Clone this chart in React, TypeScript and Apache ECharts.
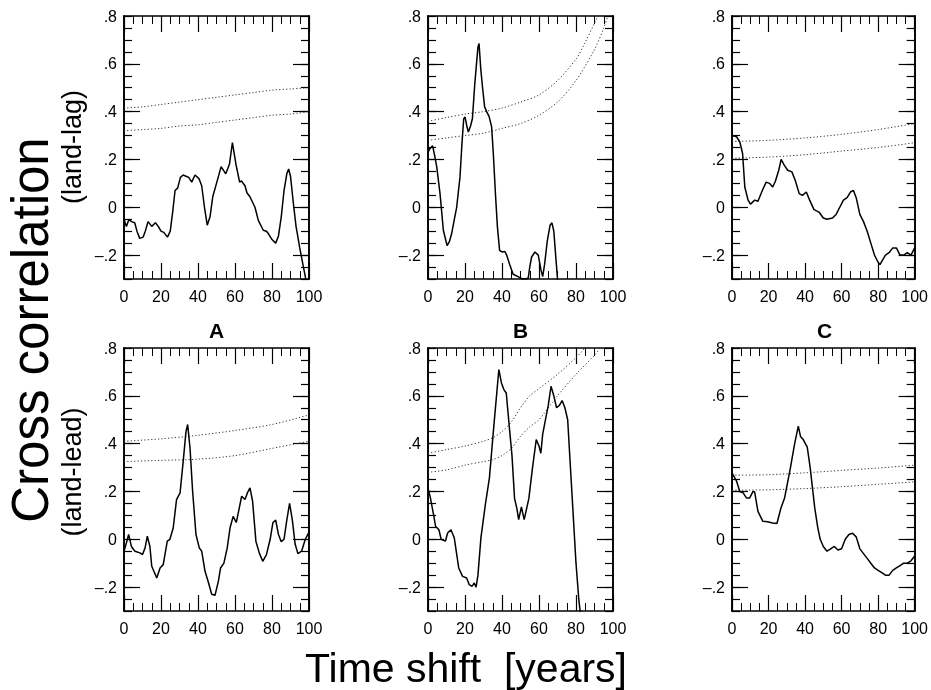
import React, { useEffect, useRef } from 'react';
import * as echarts from 'echarts';

// ---------- tick / label values ----------
const X_MIN = 0;
const X_MAX = 100;
const X_INTERVAL = 20;
const Y_MIN = -0.3;
const Y_MAX = 0.8;
const Y_MINOR_INTERVAL = 0.05;
const Y_MAJOR_TICKS = [-0.2, 0, 0.2, 0.4, 0.6];
const Y_LABELS = [-0.2, 0, 0.2, 0.4, 0.6, 0.8];
const PANEL_TITLES = ['A', 'B', 'C'];

// ---------- series values: [time shift (years), correlation] ----------
const LAG_A: [number, number][] = [
  [0, -0.05], [1.3, -0.08], [2.7, -0.05], [4, -0.06], [5.8, -0.065], [7, -0.1], [8.5, -0.13],
  [10.3, -0.125], [11.5, -0.1], [13, -0.06], [15, -0.08], [17, -0.065], [18.5, -0.08], [20, -0.1],
  [21.5, -0.105], [23.5, -0.125], [25, -0.1], [26.3, -0.02], [27.6, 0.07], [29, 0.08], [30.5, 0.125],
  [32, 0.135], [33.5, 0.13], [35, 0.125], [36.6, 0.105], [38.4, 0.135], [40.5, 0.12], [42, 0.09],
  [43.5, 0.0], [45, -0.075], [46.5, -0.04], [48, 0.045], [50, 0.1], [52.5, 0.17], [55, 0.14],
  [57, 0.18], [58.6, 0.27], [60.5, 0.18], [62.5, 0.105], [63.5, 0.11], [65.4, 0.09], [66.5, 0.06],
  [68, 0.045], [70.8, 0.0], [72.6, -0.055], [75.3, -0.096], [77, -0.1], [78, -0.11], [80, -0.135],
  [82, -0.15], [83.5, -0.12], [85, -0.04], [86.5, 0.07], [88, 0.14], [89, 0.16], [90, 0.13],
  [91.5, 0.02], [93, -0.08], [95, -0.17], [97, -0.25], [98.5, -0.31], [100, -0.36],
];
const LAG_B: [number, number][] = [
  [0, 0.23], [1, 0.245], [2.5, 0.257], [3.5, 0.22], [4.7, 0.17], [6.5, 0.057], [8.3, -0.096],
  [10.3, -0.16], [11.5, -0.145], [12.8, -0.11], [14, -0.06], [15.5, 0.0], [17.3, 0.127], [18.3, 0.26],
  [19.3, 0.37], [20, 0.378], [21, 0.34], [21.8, 0.315], [23, 0.34], [24, 0.37], [25.3, 0.517],
  [27, 0.67], [27.6, 0.685], [28.5, 0.58], [29.5, 0.5], [30.6, 0.42], [31.7, 0.4], [33, 0.38],
  [34.4, 0.336], [35.3, 0.225], [36.5, 0.05], [37.5, -0.08], [38.7, -0.18], [40, -0.187],
  [41.6, -0.185], [42.5, -0.2], [44.2, -0.24], [46, -0.28], [48.7, -0.29], [51, -0.3], [53, -0.3],
  [54.2, -0.295], [55, -0.25], [56, -0.208], [57.8, -0.187], [59.6, -0.2], [61, -0.26], [62, -0.29],
  [63, -0.24], [64.5, -0.14], [66, -0.075], [67, -0.065], [68, -0.1], [69, -0.2], [70, -0.3], [71, -0.36],
];
const LAG_C: [number, number][] = [
  [0, 0.3], [2.5, 0.295], [4.3, 0.273], [5.8, 0.225], [7, 0.085], [8.8, 0.03], [10.1, 0.013],
  [12.4, 0.03], [14.2, 0.025], [16.6, 0.07], [18.7, 0.105], [20.5, 0.1], [22.3, 0.085], [23.8, 0.11],
  [25.6, 0.155], [26.9, 0.2], [28.6, 0.176], [30.5, 0.155], [32.8, 0.148], [34.6, 0.113], [36.8, 0.057],
  [38.6, 0.05], [40.7, 0.064], [42.5, 0.03], [44.9, -0.01], [47.6, -0.02], [50, -0.045], [52, -0.05],
  [55, -0.045], [57, -0.03], [59, 0.0], [61, 0.03], [63, 0.04], [65, 0.065], [66.5, 0.07], [68, 0.04],
  [70, -0.03], [72, -0.06], [74, -0.1], [76, -0.15], [78, -0.2], [80, -0.23], [81, -0.24],
  [82.5, -0.22], [84, -0.2], [86, -0.19], [88, -0.17], [90, -0.17], [92, -0.2], [94, -0.2],
  [96, -0.19], [98, -0.2], [100, -0.17],
];
const LEAD_A: [number, number][] = [
  [0, -0.05], [1.3, -0.015], [2.5, 0.02], [4, -0.03], [5.9, -0.05], [8.6, -0.057], [10, -0.064],
  [11.4, -0.036], [12.6, 0.013], [14, -0.03], [15, -0.113], [17.7, -0.162], [19.5, -0.12],
  [21.2, -0.106], [23.4, -0.008], [24.8, 0.0], [26.6, 0.047], [28.4, 0.166], [30.3, 0.194],
  [32, 0.326], [33.5, 0.45], [34.4, 0.48], [35.7, 0.38], [37.1, 0.2], [38.9, 0.02], [40.7, -0.036],
  [42, -0.05], [43.8, -0.134], [45.6, -0.18], [47.4, -0.23], [49.2, -0.234], [51, -0.176],
  [52.2, -0.12], [54, -0.1], [55.8, -0.036], [57.3, 0.047], [59, 0.096], [60.7, 0.07], [63.6, 0.18],
  [65.4, 0.166], [66.7, 0.194], [68.1, 0.215], [69.5, 0.16], [71.3, -0.008], [73.1, -0.057],
  [75, -0.092], [77, -0.064], [79, 0.0], [80.5, 0.07], [82, 0.08], [83.5, 0.02], [85, -0.01],
  [86.5, 0.0], [88, 0.08], [89.5, 0.15], [91, 0.08], [92.5, -0.02], [94, -0.06], [96, -0.05],
  [98, 0.0], [100, 0.03],
];
const LEAD_B: [number, number][] = [
  [0, 0.215], [1.3, 0.173], [3, 0.103], [4.1, 0.054], [5.9, 0.04], [7.1, 0.0], [9.4, -0.008],
  [10.6, 0.026], [12.4, 0.04], [14.2, 0.006], [16.6, -0.12], [18.7, -0.155], [20.9, -0.162],
  [22.3, -0.19], [23.8, -0.197], [25, -0.183], [26, -0.2], [27, -0.15], [28.6, 0.006], [31, 0.145],
  [33.2, 0.257], [35.5, 0.466], [38.3, 0.71], [39.7, 0.654], [41, 0.626], [42.3, 0.612], [44, 0.466],
  [45.4, 0.35], [46.8, 0.17], [48, 0.13], [49, 0.082], [50.5, 0.135], [52, 0.082], [54.5, 0.17],
  [56.5, 0.3], [58.5, 0.417], [60, 0.39], [61, 0.36], [62, 0.44], [63.5, 0.5], [65, 0.56],
  [66.5, 0.64], [68, 0.6], [69.5, 0.55], [71, 0.56], [72.5, 0.58], [74, 0.55], [75.5, 0.5],
  [77, 0.3], [78.5, 0.1], [80, -0.1], [81.5, -0.25], [82.5, -0.32],
];
const LEAD_C: [number, number][] = [
  [0, 0.278], [2.5, 0.243], [4.3, 0.2], [6.1, 0.194], [7.9, 0.173], [9.7, 0.173], [11.5, 0.2],
  [12.4, 0.198], [14.2, 0.117], [16.9, 0.075], [19.5, 0.073], [22.2, 0.068], [24.6, 0.066],
  [26.8, 0.131], [28.8, 0.173], [32, 0.3], [34.3, 0.4], [36.3, 0.473], [37.5, 0.43], [39, 0.417],
  [41.2, 0.385], [42.8, 0.3], [45.3, 0.131], [47, 0.047], [48.3, 0.0], [50, -0.03], [52, -0.05],
  [54, -0.04], [56, -0.03], [58, -0.045], [60, -0.04], [62, 0.0], [64, 0.02], [66, 0.025],
  [68, 0.01], [70, -0.04], [72, -0.06], [74, -0.08], [76, -0.1], [78, -0.12], [80, -0.13],
  [82, -0.14], [84, -0.15], [86, -0.15], [88, -0.13], [90, -0.12], [92, -0.11], [94, -0.1],
  [96, -0.1], [98, -0.09], [100, -0.07],
];

// significance levels (dotted)
const LAG_A_HI: [number, number][] = [[0, 0.415], [10, 0.42], [20, 0.43], [30, 0.44], [40, 0.45], [50, 0.46], [60, 0.47], [70, 0.48], [80, 0.49], [90, 0.495], [100, 0.5]];
const LAG_A_LO: [number, number][] = [[0, 0.32], [10, 0.325], [20, 0.33], [30, 0.34], [40, 0.345], [50, 0.355], [60, 0.365], [70, 0.375], [80, 0.385], [90, 0.39], [100, 0.4]];
const LAG_B_HI: [number, number][] = [[0, 0.36], [10, 0.375], [20, 0.39], [30, 0.4], [40, 0.415], [50, 0.44], [60, 0.47], [70, 0.53], [80, 0.62], [85, 0.69], [90, 0.77], [93, 0.82]];
const LAG_B_LO: [number, number][] = [[0, 0.28], [10, 0.29], [20, 0.3], [30, 0.31], [40, 0.33], [50, 0.35], [60, 0.385], [70, 0.44], [80, 0.53], [90, 0.66], [95, 0.75], [98, 0.82]];
const LAG_C_HI: [number, number][] = [[0, 0.275], [20, 0.28], [40, 0.29], [60, 0.305], [80, 0.325], [100, 0.35]];
const LAG_C_LO: [number, number][] = [[0, 0.205], [20, 0.21], [40, 0.22], [60, 0.235], [80, 0.25], [100, 0.27]];
const LEAD_A_HI: [number, number][] = [[0, 0.41], [20, 0.42], [40, 0.435], [60, 0.455], [80, 0.48], [100, 0.52]];
const LEAD_A_LO: [number, number][] = [[0, 0.325], [20, 0.33], [40, 0.335], [60, 0.35], [80, 0.38], [100, 0.41]];
const LEAD_B_HI: [number, number][] = [[0, 0.36], [10, 0.375], [20, 0.39], [30, 0.41], [35, 0.425], [40, 0.45], [45, 0.49], [50, 0.55], [55, 0.6], [60, 0.63], [70, 0.69], [80, 0.76], [86, 0.81]];
const LEAD_B_LO: [number, number][] = [[0, 0.28], [10, 0.29], [20, 0.31], [30, 0.325], [35, 0.333], [40, 0.35], [45, 0.38], [50, 0.43], [55, 0.47], [60, 0.5], [70, 0.6], [80, 0.69], [90, 0.77], [94, 0.81]];
const LEAD_C_HI: [number, number][] = [[0, 0.268], [20, 0.27], [40, 0.278], [60, 0.288], [80, 0.298], [100, 0.31]];
const LEAD_C_LO: [number, number][] = [[0, 0.205], [20, 0.207], [40, 0.212], [60, 0.22], [80, 0.23], [100, 0.24]];

const PANELS = [
  { main: LAG_A, hi: LAG_A_HI, lo: LAG_A_LO },
  { main: LAG_B, hi: LAG_B_HI, lo: LAG_B_LO },
  { main: LAG_C, hi: LAG_C_HI, lo: LAG_C_LO },
  { main: LEAD_A, hi: LEAD_A_HI, lo: LEAD_A_LO },
  { main: LEAD_B, hi: LEAD_B_HI, lo: LEAD_B_LO },
  { main: LEAD_C, hi: LEAD_C_HI, lo: LEAD_C_LO },
];

// ---------- layout ----------
const COL_LEFT = [124, 428, 732];
const PANEL_W = 185;
const ROW_TOP = [16, 348];
const PANEL_H = 263;
const FONT = 'Liberation Sans';

function fmtY(v: number): string {
  if (Math.abs(v) < 1e-9) return '0';
  const s = Math.abs(v).toFixed(1).replace(/^0/, '');
  return v < 0 ? '\u2013' + s : s;
}

function axisLine() {
  return { show: true, onZero: false, lineStyle: { color: '#000', width: 1.6 } };
}
function tick(length: number) {
  return { show: true, inside: true, length, lineStyle: { color: '#000', width: 1.2 } };
}

export default function App() {
  const ref = useRef<HTMLDivElement>(null);
  useEffect(() => {
    if (!ref.current) return;
    const chart = echarts.init(ref.current, undefined, { renderer: 'svg' });
    const grids: any[] = [];
    const xAxes: any[] = [];
    const yAxes: any[] = [];
    const series: any[] = [];

    PANELS.forEach((p, i) => {
      const row = Math.floor(i / 3);
      const col = i % 3;
      grids.push({ left: COL_LEFT[col], top: ROW_TOP[row], width: PANEL_W, height: PANEL_H });
      ['bottom', 'top'].forEach((pos, k) => {
        xAxes.push({
          type: 'value', gridIndex: i, position: pos, min: X_MIN, max: X_MAX, interval: X_INTERVAL,
          axisLine: axisLine(),
          axisTick: tick(16),
          minorTick: { show: true, splitNumber: 4, length: 8 },
          axisLabel: k === 0
            ? { show: true, color: '#000', fontSize: 16, fontFamily: FONT, margin: 9 }
            : { show: false },
          splitLine: { show: false },
        });
      });
      ['left', 'right'].forEach((pos, k) => {
        yAxes.push({
          type: 'value', gridIndex: i, position: pos, min: Y_MIN, max: Y_MAX, interval: Y_MINOR_INTERVAL,
          axisLine: axisLine(),
          axisTick: tick(8),
          axisLabel: { show: false },
          splitLine: { show: false },
        });
        yAxes.push({
          type: 'value', gridIndex: i, position: pos, min: Y_MIN, max: Y_MAX,
          axisLine: axisLine(),
          axisTick: { ...tick(16), customValues: Y_MAJOR_TICKS },
          axisLabel: k === 0
            ? { show: true, customValues: Y_LABELS, formatter: (v: number) => fmtY(v), color: '#000', fontSize: 16, fontFamily: FONT, margin: 7 }
            : { show: false },
          splitLine: { show: false },
        });
      });
      const xi = i * 2;
      const yi = i * 4;
      series.push({
        type: 'line', xAxisIndex: xi, yAxisIndex: yi, data: p.main, symbol: 'none', showSymbol: false,
        clip: true, lineStyle: { color: '#000', width: 1.5 }, z: 3,
      });
      [p.hi, p.lo].forEach((d) => {
        series.push({
          type: 'line', xAxisIndex: xi, yAxisIndex: yi, data: d, symbol: 'none', showSymbol: false,
          clip: true, smooth: 0.3, lineStyle: { color: '#333', width: 1, type: [1.2, 2.2] }, z: 2,
        });
      });
    });

    const graphic: any[] = [];
    PANEL_TITLES.forEach((t, c) => {
      graphic.push({
        type: 'text', x: COL_LEFT[c] + PANEL_W / 2, y: 330,
        style: { text: t, font: `bold 21px "${FONT}"`, fill: '#000', textAlign: 'center', textVerticalAlign: 'middle' },
      });
    });
    graphic.push({
      type: 'text', x: 30, y: 330, rotation: Math.PI / 2,
      style: { text: 'Cross correlation', font: `51px "${FONT}"`, fill: '#000', textAlign: 'center', textVerticalAlign: 'middle' },
    });
    graphic.push({
      type: 'text', x: 72, y: 147, rotation: Math.PI / 2,
      style: { text: '(land-lag)', font: `27px "${FONT}"`, fill: '#000', textAlign: 'center', textVerticalAlign: 'middle' },
    });
    graphic.push({
      type: 'text', x: 72, y: 472, rotation: Math.PI / 2,
      style: { text: '(land-lead)', font: `27px "${FONT}"`, fill: '#000', textAlign: 'center', textVerticalAlign: 'middle' },
    });
    graphic.push({
      type: 'text', x: 466, y: 668,
      style: { text: 'Time shift  [years]', font: `41px "${FONT}"`, fill: '#000', textAlign: 'center', textVerticalAlign: 'middle' },
    });

    chart.setOption({
      animation: false,
      grid: grids,
      xAxis: xAxes,
      yAxis: yAxes,
      series,
      graphic,
    });
    return () => chart.dispose();
  }, []);
  return <div ref={ref} style={{ position: 'fixed', left: 0, top: 0, width: 931, height: 690 }} />;
}
